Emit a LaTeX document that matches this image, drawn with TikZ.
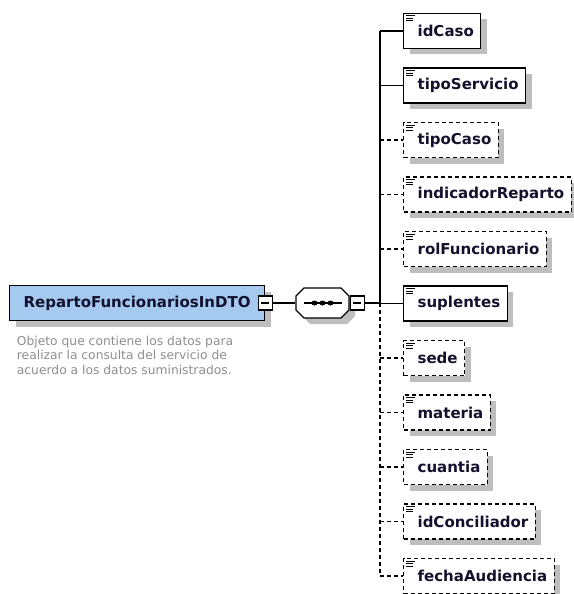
\documentclass[tikz,border=0pt]{standalone}
\usepackage{fontspec}
\setmainfont{DejaVu Sans}
\usetikzlibrary{positioning,shadows}
\definecolor{dtoblue}{HTML}{A6C9F0}
\definecolor{shadegrey}{HTML}{BEBEBE}
\definecolor{notegrey}{HTML}{8E8E8E}
\definecolor{nameink}{HTML}{12122E}
\begin{document}
\begin{tikzpicture}
[x=1pt,y=-1pt,line width=1.2pt,
shdw/.style={general shadow={fill=shadegrey,shadow xshift=6pt,shadow yshift=-6pt}},
elem/.style={draw,fill=white,shdw,minimum height=35pt,inner xsep=7pt,anchor=west,text=nameink,font=\fontsize{15}{15}\selectfont\bfseries},
req/.style={},
opt/.style={dash pattern=on 4pt off 3pt},
minus/.style={draw,fill=white,minimum size=14pt,inner sep=0pt,path picture={\draw ([xshift=3pt]path picture bounding box.west) -- ([xshift=-3pt]path picture bounding box.east);}},
octo/.style={insert path={++(-26.5,-7) -- ++(0,14) -- ++(8,8) -- ++(37,0) -- ++(8,-8) -- ++(0,-14) -- ++(-8,-8) -- ++(-37,0) -- cycle}}]
\useasboundingbox (0,0) rectangle (573,594);
\node [draw,fill=dtoblue,shdw,minimum height=35pt,inner xsep=14pt,anchor=west,text=nameink,font=\fontsize{15}{15}\selectfont\bfseries] (dto) at (9,303) {RepartoFuncionariosInDTO};
\node [minus] (dtominus) at (dto.east) {};
\node [anchor=north west,align=left,text=notegrey,font=\fontsize{12.3}{14.5}\selectfont] (note) at (13,332) {Objeto que contiene los datos para\\realizar la consulta del servicio de\\acuerdo a los datos suministrados.};
\node [minimum width=53pt,minimum height=30pt,inner sep=0pt] (seq) at (322.5,303) {};
\fill [shadegrey] ([shift={(6,6)}]seq.center) [octo];
\draw [fill=white] (seq.center) [octo];
\node [minus,right=0pt of seq] (seqminus) {};
\coordinate (fork) at (380,303);
\foreach \nm/\sty [count=\i from 0] in {idCaso/req,tipoServicio/req,tipoCaso/opt,indicadorReparto/opt,rolFuncionario/opt,suplentes/req,sede/opt,materia/opt,cuantia/opt,idConciliador/opt,fechaAudiencia/opt}
{
\node [elem,\sty] (\nm) at (403,31+54.5*\i) {\hspace*{7pt}\nm};
\draw [line width=0.8pt] ([shift={(3,3)}]\nm.north west) -- ++(9,0);
\draw [line width=0.8pt] ([shift={(3,5.5)}]\nm.north west) -- ++(7,0);
\draw [line width=0.8pt] ([shift={(3,8)}]\nm.north west) -- ++(7,0);
\draw [\sty] (fork |- \nm.west) -- (\nm.west);
}
\draw (dtominus.east) -- (seq.west);
\draw (seqminus.east) -- (fork);
\draw (fork |- idCaso.west) -- (fork);
\draw [opt] (fork) -- (fork |- fechaAudiencia.west);
\draw ([xshift=-19pt]seq.center) -- ([xshift=19pt]seq.center);
\foreach \dx in {-8,0,8}
\fill ([xshift=\dx pt]seq.center) ellipse (3pt and 2.5pt);
\end{tikzpicture}
\end{document}
